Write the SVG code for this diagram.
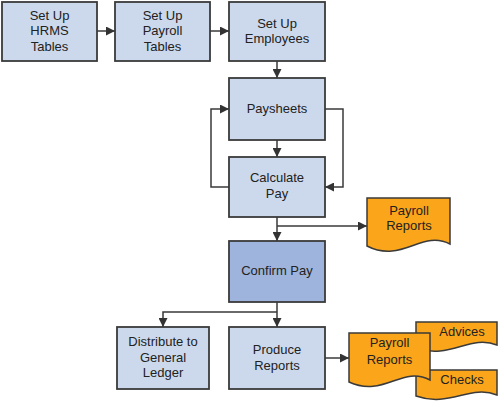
<svg xmlns="http://www.w3.org/2000/svg" width="499" height="401" viewBox="0 0 499 401">
<defs>
<marker id="ah" viewBox="0 0 10 10" refX="10" refY="5" markerWidth="9" markerHeight="9" markerUnits="userSpaceOnUse" orient="auto">
<path d="M0,0 L10,5 L0,10 Z" fill="#333"/>
</marker>
<style>
.box{fill:#CCD9EC;stroke:#3a3a3a;stroke-width:1.8}
.dark{fill:#9EB4DC}
.doc{fill:#FBA51A;stroke:#3a3a3a;stroke-width:1.5}
.ln{fill:none;stroke:#3a3a3a;stroke-width:1.5;marker-end:url(#ah)}
.ln0{fill:none;stroke:#3a3a3a;stroke-width:1.5}
text{font-family:"Liberation Sans",Arial,sans-serif;font-size:13px;fill:#222;text-anchor:middle}
</style>
</defs>
<g id="connectors">
<line class="ln" x1="97" y1="31" x2="115" y2="31"/>
<line class="ln" x1="210" y1="31" x2="229" y2="31"/>
<line class="ln" x1="277" y1="61" x2="277" y2="78"/>
<line class="ln" x1="277" y1="140" x2="277" y2="157"/>
<polyline class="ln" points="229,187 211,187 211,109 229,109"/>
<polyline class="ln" points="325,109 343,109 343,187 325,187"/>
<line class="ln" x1="277" y1="217" x2="277" y2="241"/>
<polyline class="ln" points="277,226 367,226"/>
<line class="ln" x1="277" y1="302" x2="277" y2="327"/>
<polyline class="ln" points="277,312 163,312 163,327"/>
<line class="ln" x1="325" y1="358" x2="349" y2="358"/>
</g>
<g id="hrms"><rect class="box" x="2" y="2" width="95" height="59"/><text x="49.5" y="19.5">Set Up</text><text x="49.5" y="35">HRMS</text><text x="49.5" y="51">Tables</text></g>
<g id="payrolltables"><rect class="box" x="115" y="2" width="95" height="59"/><text x="162.5" y="19.5">Set Up</text><text x="162.5" y="35">Payroll</text><text x="162.5" y="51">Tables</text></g>
<g id="employees"><rect class="box" x="229" y="2" width="96" height="59"/><text x="277" y="27.5">Set Up</text><text x="277" y="43">Employees</text></g>
<g id="paysheets"><rect class="box" x="229" y="78" width="96" height="62"/><text x="277" y="113">Paysheets</text></g>
<g id="calculate"><rect class="box" x="229" y="157" width="96" height="60"/><text x="277" y="182">Calculate</text><text x="277" y="198">Pay</text></g>
<g id="reports1"><path class="doc" d="M367,198 H450 V244 C422,229 402,264 367,246 Z"/><text x="409" y="215">Payroll</text><text x="409" y="230">Reports</text></g>
<g id="confirm"><rect class="box dark" x="229" y="241" width="96" height="61"/><text x="277" y="275">Confirm Pay</text></g>
<g id="distribute"><rect class="box" x="117" y="327" width="92" height="62"/><text x="163" y="346">Distribute to</text><text x="163" y="362">General</text><text x="163" y="377">Ledger</text></g>
<g id="produce"><rect class="box" x="229" y="327" width="96" height="62"/><text x="277" y="354">Produce</text><text x="277" y="370">Reports</text></g>
<g id="advices"><path class="doc" d="M416,322 H497 V345 C470,334 450,360 416,348 Z"/><text x="462" y="336">Advices</text></g>
<g id="checks"><path class="doc" d="M416,370 H497 V395 C470,384 450,408 416,396 Z"/><text x="462" y="384">Checks</text></g>
<g id="reports2"><path class="doc" d="M349,333 H430 V380 C402,365 384,398 349,382 Z"/><text x="389.5" y="347">Payroll</text><text x="389.5" y="364">Reports</text></g>
</svg>
